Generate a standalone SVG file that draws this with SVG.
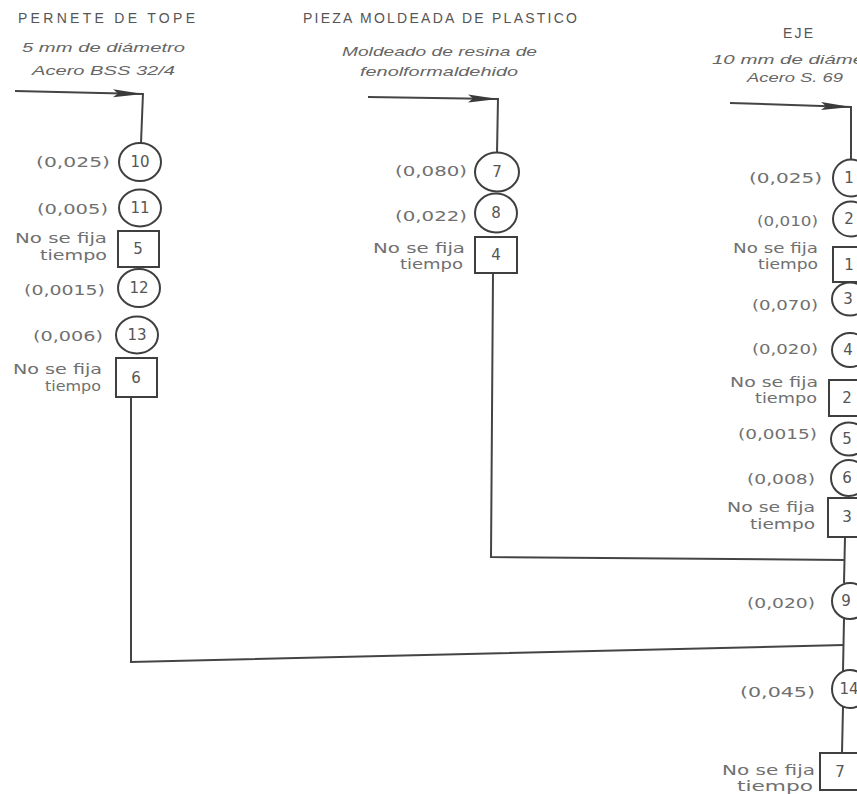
<svg xmlns="http://www.w3.org/2000/svg" width="857" height="794" viewBox="0 0 857 794">
<defs>
<marker id="ah" viewBox="0 0 30 10" markerWidth="30" markerHeight="10" refX="30" refY="5" markerUnits="userSpaceOnUse" orient="auto">
<path d="M0,1 L30,5 L0,9 L5,5 z" fill="#3a3a3a"/>
</marker>
<style>
.ln{fill:none;stroke:#444;stroke-width:2}
.nd{fill:#fff;stroke:#3f3f3f;stroke-width:2}
.ttl{font-family:"Liberation Sans",Arial,sans-serif;font-size:14px;fill:#555}
.sub{font-family:"Liberation Sans",Arial,sans-serif;font-size:13px;font-style:italic;fill:#666}
.lb{font-family:"DejaVu Sans","Liberation Sans",sans-serif;font-size:14px;fill:#707070}
.num{font-family:"DejaVu Sans","Liberation Sans",sans-serif;font-size:15px;fill:#555;text-anchor:middle}
</style>
</defs>
<rect width="857" height="794" fill="#fff"/>

<g id="titles">
<text class="ttl" x="18" y="23" textLength="177" lengthAdjust="spacing">PERNETE DE TOPE</text>
<text class="sub" x="22" y="52" textLength="163" lengthAdjust="spacingAndGlyphs">5 mm de diámetro</text>
<text class="sub" x="32" y="75" textLength="143" lengthAdjust="spacingAndGlyphs">Acero BSS 32/4</text>
<text class="ttl" x="303" y="23" textLength="274" lengthAdjust="spacing">PIEZA MOLDEADA DE PLASTICO</text>
<text class="sub" x="342" y="56" textLength="195" lengthAdjust="spacingAndGlyphs">Moldeado de resina de</text>
<text class="sub" x="360" y="76" textLength="158" lengthAdjust="spacingAndGlyphs">fenolformaldehido</text>
<text class="ttl" x="783" y="38" textLength="30" lengthAdjust="spacing">EJE</text>
<text class="sub" x="712" y="64" textLength="176" lengthAdjust="spacingAndGlyphs">10 mm de diámetro</text>
<text class="sub" x="747" y="82" textLength="96" lengthAdjust="spacingAndGlyphs">Acero S. 69</text>
</g>

<g id="connectors">
<line class="ln" x1="15" y1="91" x2="143" y2="94" marker-end="url(#ah)"/>
<path class="ln" d="M143,93 L141,143"/>
<path class="ln" d="M131,397 L131,662 L844,645"/>
<line class="ln" x1="368" y1="97" x2="498" y2="99" marker-end="url(#ah)"/>
<path class="ln" d="M498,98 L497,153"/>
<path class="ln" d="M493,273 L491,557 L845,560"/>
<line class="ln" x1="730" y1="103" x2="851" y2="107" marker-end="url(#ah)"/>
<path class="ln" d="M851,106 L851,160"/>
<path class="ln" d="M845,537 L844,583"/>
<path class="ln" d="M844,619 L843,671"/>
<path class="ln" d="M843,707 L842,753"/>
</g>

<!-- Left column -->
<g id="n10"><text class="lb" x="36" y="167" textLength="74" lengthAdjust="spacingAndGlyphs">(0,025)</text><ellipse class="nd" cx="140" cy="162" rx="21" ry="19"/><text class="num" x="140" y="167">10</text></g>
<g id="n11"><text class="lb" x="37" y="214" textLength="71" lengthAdjust="spacingAndGlyphs">(0,005)</text><ellipse class="nd" cx="140" cy="208" rx="21" ry="18.5"/><text class="num" x="140" y="213">11</text></g>
<g id="b5"><text class="lb" x="15" y="243" textLength="92" lengthAdjust="spacingAndGlyphs">No se fija</text><text class="lb" x="40" y="260" textLength="67" lengthAdjust="spacingAndGlyphs">tiempo</text><rect class="nd" x="118" y="231" width="41" height="36"/><text class="num" x="138" y="254">5</text></g>
<g id="n12"><text class="lb" x="24" y="295" textLength="81" lengthAdjust="spacingAndGlyphs">(0,0015)</text><ellipse class="nd" cx="139" cy="288" rx="21" ry="19"/><text class="num" x="139" y="293">12</text></g>
<g id="n13"><text class="lb" x="33" y="341" textLength="70" lengthAdjust="spacingAndGlyphs">(0,006)</text><ellipse class="nd" cx="137" cy="335" rx="21" ry="18.5"/><text class="num" x="137" y="340">13</text></g>
<g id="b6"><text class="lb" x="13" y="374" textLength="89" lengthAdjust="spacingAndGlyphs">No se fija</text><text class="lb" x="45" y="391" textLength="56" lengthAdjust="spacingAndGlyphs">tiempo</text><rect class="nd" x="116" y="358" width="41" height="39"/><text class="num" x="136" y="383">6</text></g>

<!-- Middle column -->
<g id="n7"><text class="lb" x="395" y="176" textLength="72" lengthAdjust="spacingAndGlyphs">(0,080)</text><ellipse class="nd" cx="497" cy="172" rx="22" ry="19.5"/><text class="num" x="497" y="177">7</text></g>
<g id="n8"><text class="lb" x="395" y="221" textLength="72" lengthAdjust="spacingAndGlyphs">(0,022)</text><ellipse class="nd" cx="496" cy="213" rx="21" ry="19.5"/><text class="num" x="496" y="218">8</text></g>
<g id="b4"><text class="lb" x="373" y="253" textLength="92" lengthAdjust="spacingAndGlyphs">No se fija</text><text class="lb" x="400" y="269" textLength="63" lengthAdjust="spacingAndGlyphs">tiempo</text><rect class="nd" x="475" y="237" width="42" height="36"/><text class="num" x="496" y="260">4</text></g>

<!-- Right column -->
<g id="n1"><text class="lb" x="749" y="183" textLength="73" lengthAdjust="spacingAndGlyphs">(0,025)</text><ellipse class="nd" cx="851" cy="178" rx="18" ry="18.5"/><text class="num" x="849" y="183">1</text></g>
<g id="n2"><text class="lb" x="757" y="226" textLength="61" lengthAdjust="spacingAndGlyphs">(0,010)</text><ellipse class="nd" cx="851" cy="219" rx="18" ry="17.5"/><text class="num" x="849" y="224">2</text></g>
<g id="b1"><text class="lb" x="733" y="253" textLength="85" lengthAdjust="spacingAndGlyphs">No se fija</text><text class="lb" x="758" y="269" textLength="60" lengthAdjust="spacingAndGlyphs">tiempo</text><rect class="nd" x="833" y="247" width="34" height="35"/><text class="num" x="849" y="270">1</text></g>
<g id="n3"><text class="lb" x="752" y="310" textLength="66" lengthAdjust="spacingAndGlyphs">(0,070)</text><ellipse class="nd" cx="850" cy="299" rx="18" ry="16.5"/><text class="num" x="848" y="304">3</text></g>
<g id="n4"><text class="lb" x="752" y="354" textLength="66" lengthAdjust="spacingAndGlyphs">(0,020)</text><ellipse class="nd" cx="850" cy="350" rx="18" ry="17"/><text class="num" x="848" y="355">4</text></g>
<g id="b2"><text class="lb" x="730" y="387" textLength="88" lengthAdjust="spacingAndGlyphs">No se fija</text><text class="lb" x="755" y="403" textLength="62" lengthAdjust="spacingAndGlyphs">tiempo</text><rect class="nd" x="829" y="380" width="38" height="36"/><text class="num" x="847" y="403">2</text></g>
<g id="n5"><text class="lb" x="738" y="439" textLength="79" lengthAdjust="spacingAndGlyphs">(0,0015)</text><ellipse class="nd" cx="849" cy="439" rx="18" ry="16.5"/><text class="num" x="847" y="444">5</text></g>
<g id="n6"><text class="lb" x="747" y="484" textLength="68" lengthAdjust="spacingAndGlyphs">(0,008)</text><ellipse class="nd" cx="849" cy="478" rx="18" ry="18"/><text class="num" x="847" y="483">6</text></g>
<g id="b3"><text class="lb" x="727" y="512" textLength="88" lengthAdjust="spacingAndGlyphs">No se fija</text><text class="lb" x="750" y="529" textLength="65" lengthAdjust="spacingAndGlyphs">tiempo</text><rect class="nd" x="828" y="498" width="40" height="39"/><text class="num" x="847" y="522">3</text></g>
<g id="n9"><text class="lb" x="747" y="608" textLength="68" lengthAdjust="spacingAndGlyphs">(0,020)</text><ellipse class="nd" cx="850" cy="601" rx="18" ry="18"/><text class="num" x="846" y="606">9</text></g>
<g id="n14"><text class="lb" x="740" y="697" textLength="75" lengthAdjust="spacingAndGlyphs">(0,045)</text><ellipse class="nd" cx="850" cy="689" rx="18" ry="19"/><text class="num" x="849" y="694">14</text></g>
<g id="b7"><text class="lb" x="722" y="775" textLength="93" lengthAdjust="spacingAndGlyphs">No se fija</text><text class="lb" x="737" y="791" textLength="76" lengthAdjust="spacingAndGlyphs">tiempo</text><rect class="nd" x="820" y="753" width="40" height="37"/><text class="num" x="840" y="777">7</text></g>
</svg>
